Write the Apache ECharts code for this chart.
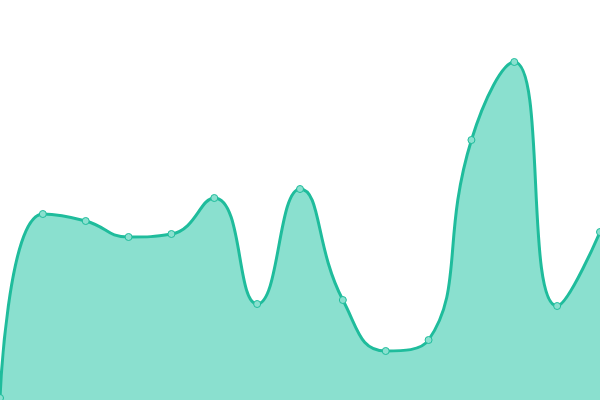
<!DOCTYPE html>
<html><head><meta charset="utf-8">
<script src="https://cdn.jsdelivr.net/npm/echarts@6/dist/echarts.min.js"></script>
<style>html,body{margin:0;padding:0;background:#fff}#c{width:600px;height:400px}</style>
</head><body><div id="c"></div>
<script>
var categories = ['1','2','3','4','5','6','7','8','9','10','11','12','13','14','15'];
var values = [2, 186, 179, 163, 166, 202, 96, 211, 100, 49, 60, 260, 338, 94, 168];
var chart = echarts.init(document.getElementById('c'));
chart.setOption({
  animation: false,
  grid: {left: 0, right: 0, top: 0, bottom: 0},
  xAxis: {type: 'category', data: categories, boundaryGap: false, show: false},
  yAxis: {type: 'value', min: 0, max: 400, show: false},
  series: [{
    type: 'line',
    data: values,
    smooth: true,
    symbol: 'circle',
    symbolSize: 7,
    itemStyle: {color: '#8ae0cf', borderColor: '#1fbc9c', borderWidth: 1},
    lineStyle: {color: '#1fbc9c', width: 3},
    areaStyle: {color: '#8ae0cf', opacity: 1}
  }]
});
</script></body></html>
